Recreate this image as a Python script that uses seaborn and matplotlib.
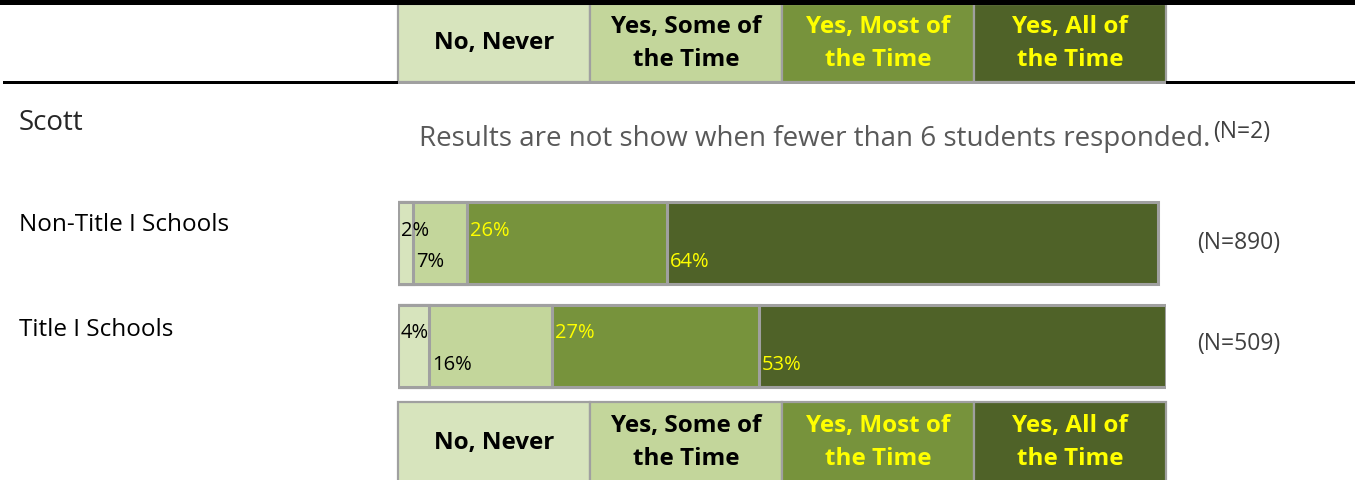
import matplotlib
matplotlib.use("Agg")
import matplotlib.pyplot as plt
from matplotlib.patches import Rectangle
import numpy as np
import pandas as pd
import seaborn as sns

# ---- data ----
groups = ["Non-Title I Schools", "Title I Schools"]
responses = ["No, Never", "Yes, Some of\nthe Time", "Yes, Most of\nthe Time", "Yes, All of\nthe Time"]
never = [2, 4]
some = [7, 16]
most = [26, 27]
all_time = [64, 53]
group_n = ["(N=890)", "(N=509)"]
suppressed_group = "Scott"
suppressed_note = "Results are not show when fewer than 6 students responded."
suppressed_n = "(N=2)"

seg_colors = ["#d7e4bd", "#c3d69b", "#77933c", "#4f6228"]
txt_colors = ["black", "black", "#ffff00", "#ffff00"]
edge = "#a0a0a0"

sns.set_theme(style="white")
plt.rcParams["font.family"] = ["Open Sans", "DejaVu Sans"]

W, H = 1355, 481
fig = plt.figure(figsize=(W / 100, H / 100), dpi=100)


def fx(px):
    return px / W


def fy(py):
    return 1 - py / H


# ---- stacked bars ----
x0, x1 = 398, 1166
ax = fig.add_axes([fx(x0), fy(397.75), fx(x1 - x0), (397.75 - 192.75) / H])
segments = np.array([never, some, most, all_time], dtype=float)
cum = segments.cumsum(axis=0)
starts = cum - segments
df = pd.DataFrame({"group": groups})
for k in range(len(responses) - 1, -1, -1):
    df["val"] = cum[k]
    sns.barplot(data=df, x="val", y="group", orient="h", color=seg_colors[k],
                saturation=1, width=0.8, edgecolor=edge, linewidth=2.2, ax=ax)
ax.set_xlim(0, 100)
ax.set_ylim(1.5, -0.5)
ax.axis("off")

for i in range(len(groups)):
    for k in range(len(responses)):
        dy = -0.13 if k % 2 == 0 else 0.18
        ax.text(starts[k, i] + 0.4, i + dy, f"{segments[k, i]:.0f}%",
                color=txt_colors[k], fontsize=14.5, ha="left", va="center")

# ---- row labels ----
row_y = [225, 330]
for g, y in zip(groups, row_y):
    fig.text(fx(19), fy(y), g, fontsize=17.5, ha="left", va="center", color="black")
for n, y in zip(group_n, [243, 344]):
    fig.text(fx(1197), fy(y), n, fontsize=16.5, ha="left", va="center", color="#404040")

fig.text(fx(19), fy(123), suppressed_group, fontsize=20, ha="left", va="center")
fig.text(fx(419), fy(139), suppressed_note, fontsize=20, ha="left", va="center", color="#595959")
fig.text(fx(1213), fy(132), suppressed_n, fontsize=16.5, ha="left", va="center", color="#404040")

# ---- header bands ----
def header(top, bottom, text_mid):
    cw = (x1 - x0) / 4
    for k, lab in enumerate(responses):
        left = x0 + k * cw
        fig.patches.append(Rectangle((fx(left), fy(bottom)), fx(cw), (bottom - top) / H,
                                     transform=fig.transFigure, facecolor=seg_colors[k],
                                     edgecolor=edge, linewidth=1.6, zorder=1))
        fig.text(fx(left + cw / 2), fy(text_mid), lab, fontsize=17.5,
                 fontweight="bold", color=txt_colors[k], ha="center", va="center",
                 linespacing=1.5, zorder=3)


header(5, 83, 43)
header(403, 490, 443)

# rules around the upper header
fig.patches.append(Rectangle((0, fy(6)), 1, 6 / H, transform=fig.transFigure,
                             facecolor="black", edgecolor="none", zorder=4))
fig.patches.append(Rectangle((fx(3), fy(85)), fx(x0 - 3), 3 / H, transform=fig.transFigure,
                             facecolor="black", edgecolor="none", zorder=4))
fig.patches.append(Rectangle((fx(x1), fy(85)), 1 - fx(x1), 3 / H, transform=fig.transFigure,
                             facecolor="black", edgecolor="none", zorder=4))
fig.patches.append(Rectangle((fx(x0), fy(85)), fx(x1 - x0), 3 / H, transform=fig.transFigure,
                             facecolor=edge, edgecolor="none", zorder=4))

fig.savefig("out.png", dpi=100, facecolor="white")
